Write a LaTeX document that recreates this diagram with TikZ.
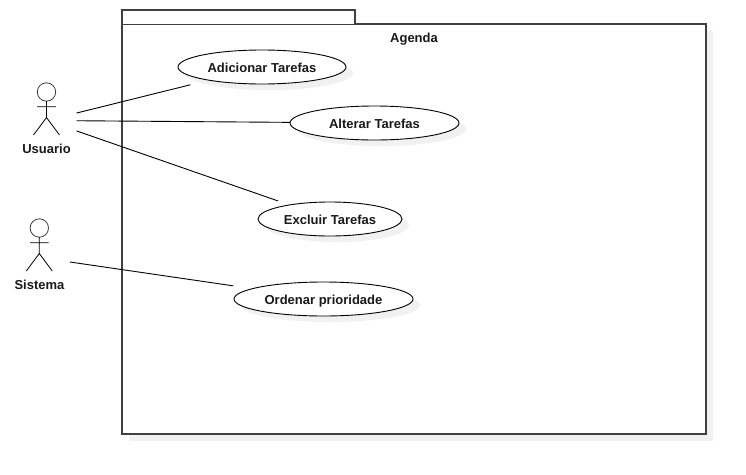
\documentclass[tikz,border=0pt]{standalone}
\usepackage{fontspec}
\setmainfont{Liberation Sans}
\usetikzlibrary{shapes.geometric,shadows}
\definecolor{shadowgray}{gray}{0.945}
\definecolor{framegray}{gray}{0.25}
\tikzset{
  x=1pt,y=-1pt,
  lbl/.style={font=\bfseries\fontsize{13}{15}\selectfont,text=black!90,inner sep=0pt,text height=10pt,text depth=0pt},
  ucase/.style={shape=ellipse,draw=black,line width=0.9pt,fill=white,inner sep=0pt,outer sep=0pt,
    minimum height=34pt,
    general shadow={fill=shadowgray,shadow xshift=7pt,shadow yshift=-6pt},
    lbl},
  actorbox/.style={shape=rectangle,inner sep=0pt,outer sep=0pt,minimum height=75pt},
  stick/.style={draw=black,line width=0.8pt,line join=miter},
  conn/.style={draw=black,line width=0.9pt},
  frame/.style={draw=framegray,line width=1.15pt,fill=white},
  pics/stickman/.style={code={
    \draw[stick,draw=black!75] (0,0) circle[radius=9.2];
    \draw[stick] (0,9.2) -- (0,25.5)
       (-9.3,14.8) -- (9.3,14.8)
       (-13,43) -- (0,25.5) -- (13,43);
  }}
}
\begin{document}
\begin{tikzpicture}
\useasboundingbox (0,0) rectangle (746,474);
% package
\fill[shadowgray] (129,31) rectangle (713,441);
\draw[frame] (122,24) rectangle (706,434);
\draw[frame] (122,24) -- (122,10) -- (355,10) -- (355,24);
\node[lbl] (agenda) at (414,37.5) {Agenda};
% use cases
\node[ucase,minimum width=168pt] (add) at (262,67) {Adicionar Tarefas};
\node[ucase,minimum width=169pt] (alt) at (374.5,123) {Alterar Tarefas};
\node[ucase,minimum width=144pt] (exc) at (330,219) {Excluir Tarefas};
\node[ucase,minimum width=179pt] (ord) at (323.5,299) {Ordenar prioridade};
% actors
\pic at (46.5,92) {stickman};
\pic at (39.3,228) {stickman};
\node[lbl] (usuariotxt) at (46.5,148.5) {Usuario};
\node[lbl] (sistematxt) at (39.5,284.5) {Sistema};
\node[actorbox,minimum width=60pt] (usuario) at (46.5,120.5) {};
\node[actorbox,minimum width=62pt] (sistema) at (39,257.5) {};
% connectors
\draw[conn,shorten >=19pt] (usuario) -- (add);
\draw[conn] (usuario) -- (alt);
\draw[conn,shorten >=12pt] (usuario) -- (exc);
\draw[conn,shorten >=19.5pt] (sistema) -- (ord);
\end{tikzpicture}
\end{document}
